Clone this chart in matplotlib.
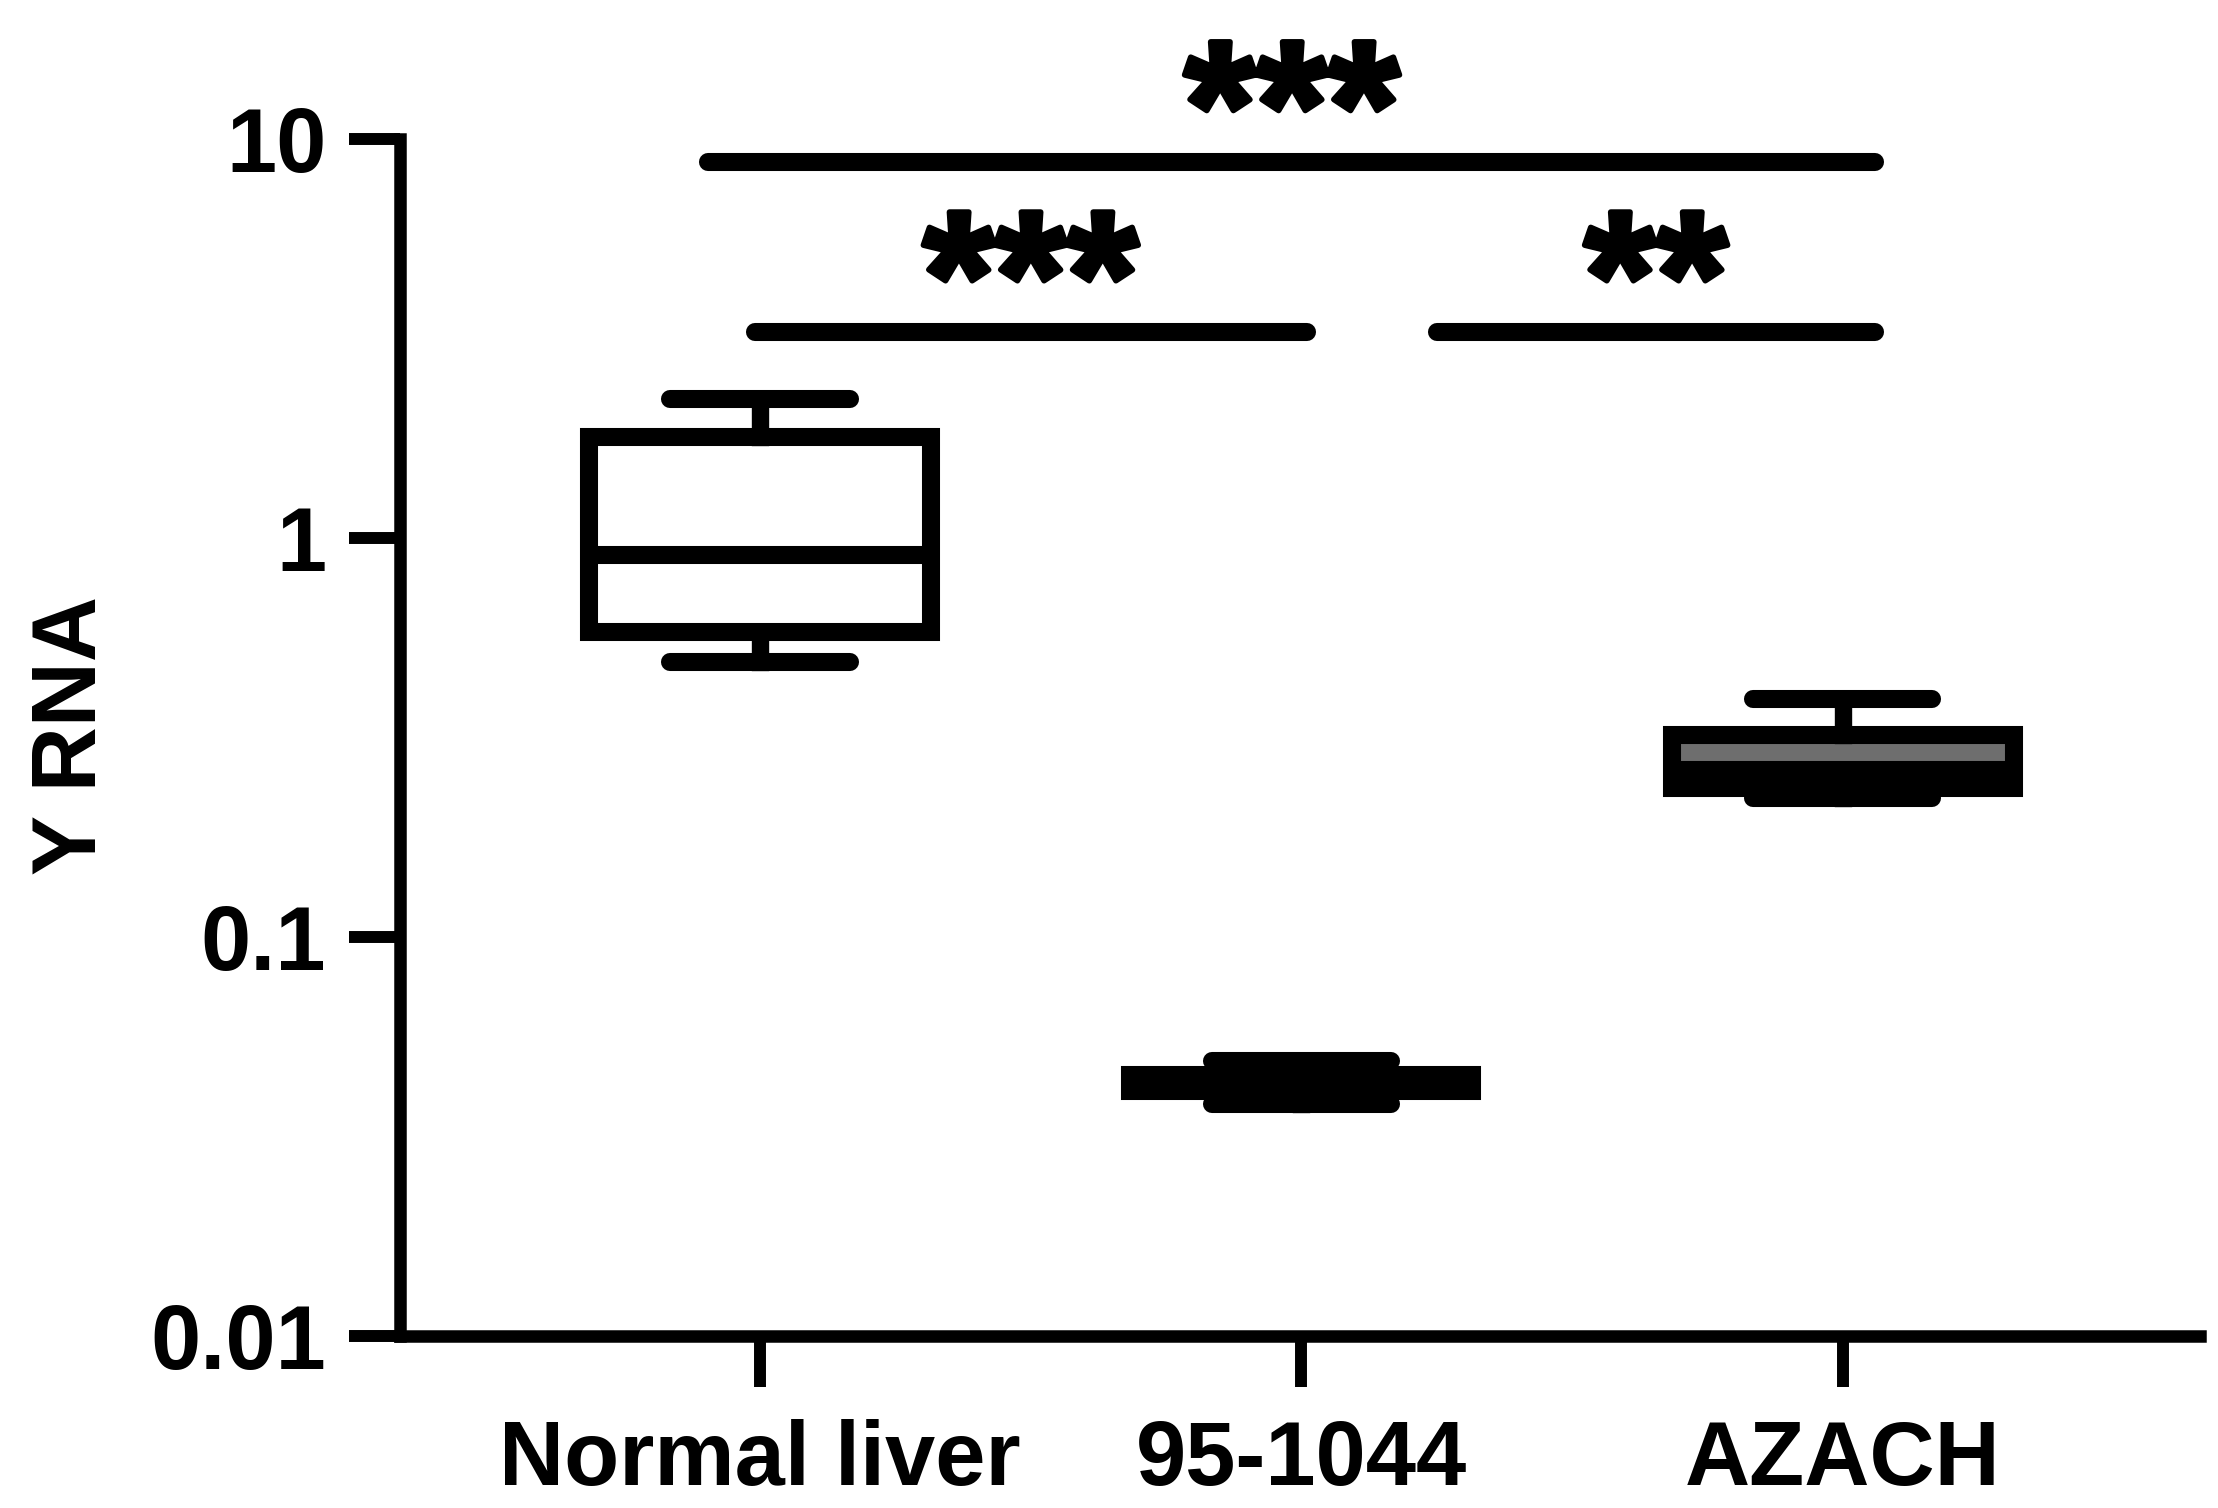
import matplotlib.pyplot as plt
import matplotlib.patheffects as pe

plt.rcParams['font.family'] = ['Liberation Sans', 'DejaVu Sans']
plt.rcParams['font.weight'] = 'bold'

groups = ["Normal liver", "95-1044", "AZACH"]
whisker_low = [0.489, 0.0381, 0.223]
q1 = [0.581, 0.0411, 0.236]
medians = [0.906, 0.0431, 0.2616]
q3 = [1.79, 0.0451, 0.321]
whisker_high = [2.23, 0.0489, 0.395]
fills = ["white", "black", "#6e6e6e"]

# significance bars
sig_x0 = [-0.095, -0.01, 1.25]
sig_x1 = [2.06, 1.01, 2.06]
sig_y = [8.76, 3.28, 3.28]
sig_text = ["***", "***", "**"]

fig = plt.figure(figsize=(22.18, 15.08), dpi=100)
ax = fig.add_axes([0.1803, 0.1141, 0.8116, 0.7937])

stats = []
for i in range(len(groups)):
    stats.append(dict(label=groups[i], whislo=whisker_low[i], q1=q1[i], med=medians[i],
                      q3=q3[i], whishi=whisker_high[i]))

bp = ax.bxp(stats, positions=[0, 1, 2], widths=0.632, capwidths=0.331,
            patch_artist=True, showfliers=False,
            boxprops=dict(linewidth=13, edgecolor='black', joinstyle='miter'),
            whiskerprops=dict(linewidth=12.5, color='black'),
            capprops=dict(linewidth=13, color='black', solid_capstyle='round'),
            medianprops=dict(linewidth=13, color='black', solid_capstyle='butt'))
for box, c in zip(bp['boxes'], fills):
    box.set_facecolor(c)

ax.set_yscale('log')
ax.set_ylim(0.01, 10)
ax.set_xlim(-0.665, 2.66)
ax.set_yticks([0.01, 0.1, 1, 10])
ax.set_yticklabels(['0.01', '0.1', '1', '10'])
ax.minorticks_off()
ax.set_xticks([0, 1, 2])
ax.set_xticklabels(groups)

for s in ['top', 'right']:
    ax.spines[s].set_visible(False)
for s in ['left', 'bottom']:
    ax.spines[s].set_linewidth(9)

ax.tick_params(axis='both', length=37, width=8.6, labelsize=65, color='black')
ax.tick_params(axis='y', pad=16)
ax.tick_params(axis='x', pad=23)

ax.set_ylabel('Y RNA', fontsize=65, fontweight='bold')
ax.yaxis.set_label_coords(-0.158, 0.502)

for x0, x1, y, t in zip(sig_x0, sig_x1, sig_y, sig_text):
    ax.plot([x0, x1], [y, y], color='black', linewidth=13, solid_capstyle='round', clip_on=False)
    ax.annotate(t, xy=((x0 + x1) / 2, y), xytext=(0, -5), textcoords='offset points',
                ha='center', va='baseline', fontsize=133, fontweight='bold', annotation_clip=False,
                path_effects=[pe.withStroke(linewidth=4, foreground='black')])

fig.savefig('out.png', dpi=100)
